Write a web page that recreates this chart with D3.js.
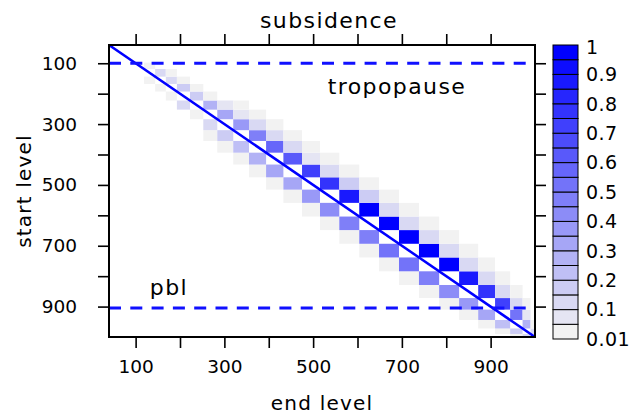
<!DOCTYPE html>
<html><head><meta charset="utf-8">
<script src="https://cdn.jsdelivr.net/npm/d3@7"></script>
<style>
body{margin:0;background:#fff}
svg{display:block}
text{font-family:"DejaVu Sans",sans-serif;fill:#000}
</style>
</head><body>
<svg id="c" width="637" height="417"></svg>
<script>
// level boundaries (hPa); level k spans levelEdges[k]..levelEdges[k+1]
const levelEdges = [40, 98, 119, 144, 168, 193, 222.5, 252.5, 284, 320, 355.5, 394, 433, 475, 515.5,
  559, 604, 648.5, 693.5, 738.5, 784, 829, 872, 910, 944, 972, 990, 1000];
// fraction of air leaving start level k that ends in level k+offset
const fracM2 = [0,0,0,0,0,0,0,0,0,0.03,0.03,0.03,0.03,0.03,0.03,0.03,0.03,0.03,0.03,0.03,0.03,0.03,0.03,0.03,0.03,0.03,0.02];
const fracM1 = [0,0,0,0.03,0.03,0.03,0.1,0.03,0.12,0.15,0.2,0.25,0.3,0.3,0.35,0.4,0.45,0.45,0.5,0.5,0.45,0.4,0.35,0.3,0.2,0.15,0.1];
const fracP1 = [0,0.03,0.12,0.12,0.15,0.18,0.25,0.3,0.35,0.45,0.55,0.6,0.7,0.75,0.85,0.95,1,1,1,0.97,0.85,0.75,0.7,0.5,0.25,0.1,0];
const fracP2 = [0,0,0.03,0.03,0.03,0.03,0.05,0.08,0.1,0.12,0.1,0.08,0.12,0.15,0.15,0.12,0.12,0.12,0.12,0.12,0.12,0.12,0.12,0.05,0.03,0,0];
const fracP3 = [0,0,0,0,0,0,0.02,0.03,0.03,0.03,0.03,0.03,0.03,0.03,0.03,0.03,0.03,0.03,0.03,0.03,0.03,0.03,0.03,0,0,0,0];
const offsetSeries = [[-2, fracM2], [-1, fracM1], [1, fracP1], [2, fracP2], [3, fracP3]];

const axisTicks = [100, 200, 300, 400, 500, 600, 700, 800, 900];
const axisLabels = [100, 300, 500, 700, 900];
const keyBreaks = [0.01, 0.05, 0.1, 0.15, 0.2, 0.25, 0.3, 0.35, 0.4, 0.45, 0.5, 0.55, 0.6, 0.65, 0.7, 0.75, 0.8, 0.85, 0.9, 0.95, 1];
const keyLabelValues = [0.01, 0.1, 0.2, 0.3, 0.4, 0.5, 0.6, 0.7, 0.8, 0.9, 1];
const tropopauseLevel = 100;
const pblLevel = 905;
const domain = [40, 1000];

const svg = d3.select("#c");
const L = 109, R = 535, T = 45, B = 337;
const x = d3.scaleLinear().domain(domain).range([L, R]);
const y = d3.scaleLinear().domain(domain).range([T, B]);
const nBins = keyBreaks.length - 1;
const ramp = d3.interpolateRgb("#F2F2F2", "#0000FF");
const binColor = i => ramp(i / (nBins - 1));
function colorOf(v) {
  let i = d3.bisectRight(keyBreaks, v) - 1;
  if (i >= nBins) i = nBins - 1;
  return binColor(i);
}

// cells
const cells = [];
offsetSeries.forEach(([off, arr]) => {
  arr.forEach((v, k) => {
    const j = k + off;
    if (v >= 0.01 && j >= 0 && j < levelEdges.length - 1) cells.push({k, j, v});
  });
});
svg.append("defs").append("clipPath").attr("id", "clip")
  .append("rect").attr("x", L).attr("y", T).attr("width", R - L).attr("height", B - T);
const plot = svg.append("g").attr("clip-path", "url(#clip)");
plot.selectAll("rect.cell").data(cells).join("rect").attr("class", "cell")
  .attr("x", d => x(levelEdges[d.j]))
  .attr("y", d => y(levelEdges[d.k]))
  .attr("width", d => x(levelEdges[d.j + 1]) - x(levelEdges[d.j]))
  .attr("height", d => y(levelEdges[d.k + 1]) - y(levelEdges[d.k]))
  .attr("fill", d => colorOf(d.v));

// diagonal
plot.append("line").attr("x1", x(domain[0])).attr("y1", y(domain[0]))
  .attr("x2", x(domain[1])).attr("y2", y(domain[1]))
  .attr("stroke", "#0000FF").attr("stroke-width", 2.5);
// dashed levels
[tropopauseLevel, pblLevel].forEach(p => {
  plot.append("line").attr("x1", L).attr("x2", R).attr("y1", y(p)).attr("y2", y(p))
    .attr("stroke", "#1010FF").attr("stroke-width", 3).attr("stroke-dasharray", "12,9.3");
});

// axes
function styleAxis(g) {
  g.select(".domain").remove();
  g.selectAll(".tick line").attr("stroke", "#000").attr("stroke-width", 1.6);
  g.selectAll(".tick text").attr("font-size", 18.5).attr("font-family", "DejaVu Sans").attr("fill", "#000");
}
const fmt = d => axisLabels.includes(d) ? String(d) : "";
svg.append("g").attr("transform", `translate(0,${B})`)
  .call(d3.axisBottom(x).tickValues(axisTicks).tickFormat(fmt).tickSize(11).tickPadding(12)).call(styleAxis);
svg.append("g").attr("transform", `translate(${L},0)`)
  .call(d3.axisLeft(y).tickValues(axisTicks).tickFormat(fmt).tickSize(11).tickPadding(21)).call(styleAxis);
svg.append("g").attr("transform", `translate(0,${T})`)
  .call(d3.axisTop(x).tickValues(axisTicks).tickFormat("").tickSize(11)).call(styleAxis);
svg.append("g").attr("transform", `translate(${R},0)`)
  .call(d3.axisRight(y).tickValues(axisTicks).tickFormat("").tickSize(11)).call(styleAxis);

// border
svg.append("rect").attr("x", L).attr("y", T).attr("width", R - L).attr("height", B - T)
  .attr("fill", "none").attr("stroke", "#000").attr("stroke-width", 2);

// annotations
svg.append("text").attr("x", x(689)).attr("y", y(201)).attr("text-anchor", "middle")
  .attr("font-size", 22).attr("letter-spacing", 1.4).text("tropopause");
svg.append("text").attr("x", x(175)).attr("y", y(862)).attr("text-anchor", "middle")
  .attr("font-size", 22).attr("letter-spacing", 1.4).text("pbl");

// titles
svg.append("text").attr("x", 329).attr("y", 28).attr("text-anchor", "middle")
  .attr("font-size", 22).attr("letter-spacing", 1.4).text("subsidence");
svg.append("text").attr("x", (L + R) / 2).attr("y", 410).attr("text-anchor", "middle")
  .attr("font-size", 20).attr("letter-spacing", 1.2).text("end level");
svg.append("text").attr("transform", `translate(31,${(T + B) / 2}) rotate(-90)`).attr("text-anchor", "middle")
  .attr("font-size", 20).attr("letter-spacing", 1.2).text("start level");

// colour key
const kx = 553, kw = 25, kTop = 45, kBot = 339;
const ky = d3.scaleLinear().domain([0, nBins]).range([kBot, kTop]);
const key = svg.append("g");
key.selectAll("rect").data(d3.range(nBins)).join("rect")
  .attr("x", kx).attr("y", i => ky(i + 1)).attr("width", kw).attr("height", i => ky(i) - ky(i + 1))
  .attr("fill", i => binColor(i)).attr("stroke", "#000").attr("stroke-width", 1);
key.selectAll("text").data(keyLabelValues).join("text")
  .attr("x", kx + kw + 8).attr("y", v => ky(keyBreaks.indexOf(v)) + (v === 1 ? 2 : 0))
  .attr("dy", "0.36em").attr("font-size", 19).attr("letter-spacing", 0.4).text(v => String(v));
</script>
</body></html>
